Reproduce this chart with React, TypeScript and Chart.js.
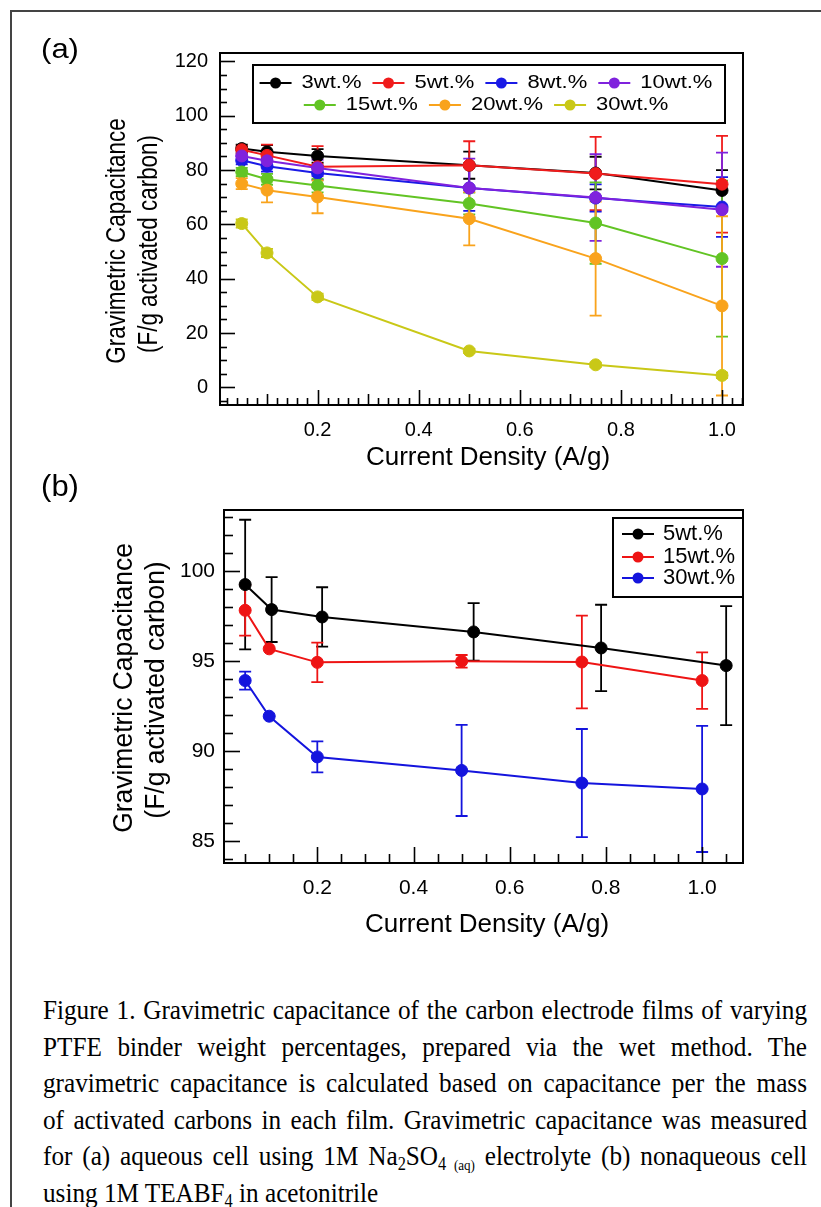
import React, { useEffect, useRef } from 'react';
import { Chart, registerables } from 'chart.js';

Chart.register(...registerables);

const FONT = '"Liberation Sans", Arial, Helvetica, sans-serif';

// ---------------- Panel (a): aqueous cell ----------------
const currentA = [0.05, 0.1, 0.2, 0.5, 0.75, 1.0];
const labelsA = ['3wt.%', '5wt.%', '8wt.%', '10wt.%', '15wt.%', '20wt.%', '30wt.%'];
const colorsA = ['#000000', '#f01c1c', '#1a1ae6', '#7f22dd', '#62c424', '#f9a31c', '#c9c817'];

const cap3 = [87.9, 86.7, 85.2, 81.8, 78.9, 72.5];
const err3 = [1.5, 2.5, 2.5, 5.0, 6.0, 7.5];
const cap5 = [87.5, 85.4, 81.2, 81.8, 78.7, 74.8];
const err5 = [1.5, 4.0, 7.6, 8.8, 13.5, 17.8];
const cap8 = [83.6, 81.4, 78.9, 73.4, 69.7, 66.4];
const err8 = [1.5, 2.0, 2.5, 8.4, 5.0, 11.0];
const cap10 = [85.2, 83.4, 80.8, 73.4, 69.9, 65.4];
const err10 = [2.0, 2.5, 3.0, 10.8, 16.0, 21.0];
const cap15 = [79.3, 76.6, 74.3, 67.7, 60.5, 47.4];
const err15 = [1.5, 2.0, 2.5, 4.0, 15.0, 28.7];
const cap20 = [75.0, 72.6, 70.1, 62.1, 47.4, 30.0];
const err20 = [2.0, 4.5, 6.0, 9.8, 21.0, 33.0];
const cap30 = [60.3, 49.5, 33.3, 13.4, 8.3, 4.4];
const err30 = [1.5, 1.5, 1.2, 0.8, 0.8, 1.0];

const valuesA = [cap3, cap5, cap8, cap10, cap15, cap20, cap30];
const errorsA = [err3, err5, err8, err10, err15, err20, err30];

const xTicksA = [0.2, 0.4, 0.6, 0.8, 1.0];
const yTicksA = [0, 20, 40, 60, 80, 100, 120];

// ---------------- Panel (b): nonaqueous cell ----------------
const labelsB = ['5wt.%', '15wt.%', '30wt.%'];
const colorsB = ['#000000', '#ee1414', '#1414dd'];
const currentB5 = [0.05, 0.105, 0.21, 0.525, 0.79, 1.05];
const capB5 = [99.26, 97.87, 97.46, 96.63, 95.74, 94.76];
const errB5 = [3.6, 1.8, 1.65, 1.6, 2.4, 3.3];
const currentB15 = [0.05, 0.1, 0.2, 0.5, 0.75, 1.0];
const capB15 = [97.83, 95.69, 94.94, 95.0, 94.96, 93.93];
const errB15 = [1.4, 0, 1.1, 0.35, 2.57, 1.57];
const currentB30 = [0.05, 0.1, 0.2, 0.5, 0.75, 1.0];
const capB30 = [93.93, 91.95, 89.69, 88.94, 88.24, 87.91];
const errB30 = [0.5, 0, 0.86, 2.53, 3.0, 3.5];

const currentsB = [currentB5, currentB15, currentB30];
const valuesB = [capB5, capB15, capB30];
const errorsB = [errB5, errB15, errB30];

const xTicksB = [0.2, 0.4, 0.6, 0.8, 1.0];
const yTicksB = [85, 90, 95, 100];

const yTitle = ['Gravimetric Capacitance', '(F/g activated carbon)'];
const xTitle = 'Current Density (A/g)';

type TickCfg = {
  xMinor: number; xMajor: number; xMid?: number;
  yMinor: number; yMajor: number;
  majorLen: number; minorLen: number; midLen: number;
};

function stepValues(min: number, max: number, step: number) {
  const out: number[] = [];
  const k0 = Math.ceil(min / step - 1e-9);
  const k1 = Math.floor(max / step + 1e-9);
  for (let k = k0; k <= k1; k++) out.push(k * step);
  return out;
}
const isMult = (v: number, m: number) => Math.abs(v / m - Math.round(v / m)) < 1e-6;

function frameTicksPlugin(cfg: TickCfg) {
  return {
    id: 'frameTicks',
    afterDraw(chart: any) {
      const { ctx, chartArea: a, scales } = chart;
      const xs = scales.x, ys = scales.y;
      ctx.save();
      ctx.strokeStyle = '#000';
      ctx.lineWidth = 1.6;
      for (const v of stepValues(ys.min, ys.max, cfg.yMinor)) {
        const len = isMult(v, cfg.yMajor) ? cfg.majorLen : cfg.minorLen;
        const p = Math.round(ys.getPixelForValue(v)) + 0.5;
        ctx.beginPath(); ctx.moveTo(a.left, p); ctx.lineTo(a.left + len, p); ctx.stroke();
      }
      for (const v of stepValues(xs.min, xs.max, cfg.xMinor)) {
        let len = cfg.minorLen;
        if (isMult(v, cfg.xMajor)) len = cfg.majorLen;
        else if (cfg.xMid && isMult(v, cfg.xMid)) len = cfg.midLen;
        const p = Math.round(xs.getPixelForValue(v)) + 0.5;
        ctx.beginPath(); ctx.moveTo(p, a.bottom); ctx.lineTo(p, a.bottom - len); ctx.stroke();
      }
      ctx.lineWidth = 2;
      ctx.strokeRect(a.left, a.top, a.right - a.left, a.bottom - a.top);
      ctx.restore();
    },
  };
}

const errorBarPlugin = {
  id: 'errorBars',
  beforeDatasetsDraw(chart: any) {
    const { ctx, chartArea: a, scales } = chart;
    const xs = scales.x, ys = scales.y;
    ctx.save();
    ctx.beginPath();
    ctx.rect(a.left, a.top, a.right - a.left, a.bottom - a.top);
    ctx.clip();
    ctx.lineWidth = 1.8;
    chart.data.datasets.forEach((ds: any) => {
      const errs: number[] = ds.errors || [];
      ctx.strokeStyle = ds.borderColor;
      ds.data.forEach((pt: any, j: number) => {
        const e = errs[j];
        if (!e) return;
        const x = xs.getPixelForValue(pt.x);
        const y1 = ys.getPixelForValue(pt.y + e);
        const y2 = ys.getPixelForValue(pt.y - e);
        ctx.beginPath();
        ctx.moveTo(x, y1); ctx.lineTo(x, y2);
        ctx.moveTo(x - 6, y1); ctx.lineTo(x + 6, y1);
        ctx.moveTo(x - 6, y2); ctx.lineTo(x + 6, y2);
        ctx.stroke();
      });
    });
    ctx.restore();
  },
};

function drawText(ctx: any, text: string, x: number, y: number, size: number, opts: any = {}) {
  ctx.save();
  ctx.translate(x, y);
  if (opts.rotate) ctx.rotate(-Math.PI / 2);
  ctx.scale(opts.sx || 1, opts.sy || 1);
  ctx.font = `${size}px ${FONT}`;
  ctx.fillStyle = '#000';
  ctx.textAlign = opts.align || 'center';
  ctx.textBaseline = 'middle';
  ctx.fillText(text, 0, 0);
  ctx.restore();
}

function legendSample(ctx: any, x: number, y: number, color: string) {
  ctx.save();
  ctx.strokeStyle = color;
  ctx.fillStyle = color;
  ctx.lineWidth = 2;
  ctx.beginPath(); ctx.moveTo(x, y); ctx.lineTo(x + 32, y); ctx.stroke();
  ctx.beginPath(); ctx.arc(x + 16, y, 5.5, 0, Math.PI * 2); ctx.fill();
  ctx.restore();
}

const decorA = {
  id: 'decorA',
  afterDraw(chart: any) {
    const ctx = chart.ctx;
    drawText(ctx, '(a)', 60, 50, 31, { sy: 0.9 });
    drawText(ctx, yTitle[0], 118, 241, 27, { rotate: true, sx: 0.83 });
    drawText(ctx, yTitle[1], 150, 244, 27, { rotate: true, sx: 0.83 });
    drawText(ctx, xTitle, 488, 458, 26);
    const box = { l: 253, t: 65, r: 725, b: 123 };
    ctx.save();
    ctx.fillStyle = '#fff';
    ctx.fillRect(box.l, box.t, box.r - box.l, box.b - box.t);
    ctx.strokeStyle = '#000';
    ctx.lineWidth = 2;
    ctx.strokeRect(box.l, box.t, box.r - box.l, box.b - box.t);
    ctx.restore();
    const rows = [[0, 1, 2, 3], [4, 5, 6]];
    const rowY = [83, 105];
    const size = 22;
    ctx.save();
    ctx.font = `${size}px ${FONT}`;
    const gap = 11;
    rows.forEach((row, r) => {
      const widths = row.map((i) => 42 + ctx.measureText(labelsA[i]).width);
      const total = widths.reduce((s, w) => s + w, 0) + gap * (row.length - 1);
      let x = (box.l + box.r) / 2 - 3 - total / 2;
      row.forEach((i, k) => {
        legendSample(ctx, x, rowY[r], colorsA[i]);
        drawText(ctx, labelsA[i], x + 42, rowY[r], size, { align: 'left', sy: 0.86 });
        x += widths[k] + gap;
      });
    });
    ctx.restore();
  },
};

const decorB = {
  id: 'decorB',
  afterDraw(chart: any) {
    const ctx = chart.ctx;
    drawText(ctx, '(b)', 60, 18, 31, { sy: 0.95 });
    drawText(ctx, yTitle[0], 125, 218, 27, { rotate: true, sx: 0.98 });
    drawText(ctx, yTitle[1], 157, 220, 27, { rotate: true, sx: 0.98 });
    drawText(ctx, xTitle, 487, 455, 26);
    const box = { l: 613, t: 48, r: 743, b: 127 };
    ctx.save();
    ctx.fillStyle = '#fff';
    ctx.fillRect(box.l, box.t, box.r - box.l, box.b - box.t);
    ctx.strokeStyle = '#000';
    ctx.lineWidth = 2;
    ctx.strokeRect(box.l, box.t, box.r - box.l, box.b - box.t);
    ctx.restore();
    const rowY = [64, 87, 108];
    labelsB.forEach((lab, i) => {
      legendSample(ctx, 622, rowY[i], colorsB[i]);
      drawText(ctx, lab, 663, rowY[i], 22, { align: 'left' });
    });
  },
};

function makeScales(o: any) {
  const tickFont = { family: FONT, size: o.tickSize };
  return {
    x: {
      type: 'linear',
      min: o.xMin,
      max: o.xMax,
      afterFit: (s: any) => { s.height = o.xAxisH; },
      afterBuildTicks: (s: any) => { s.ticks = o.xTicks.map((v: number) => ({ value: v })); },
      ticks: { font: tickFont, color: '#000', padding: o.xPad, autoSkip: false, maxRotation: 0, includeBounds: false, callback: (v: any) => Number(v).toFixed(1) },
      grid: { display: false, drawTicks: false },
      border: { display: false },
    },
    y: {
      type: 'linear',
      min: o.yMin,
      max: o.yMax,
      afterFit: (s: any) => { s.width = o.yAxisW; },
      afterBuildTicks: (s: any) => { s.ticks = o.yTicks.map((v: number) => ({ value: v })); },
      ticks: { font: tickFont, color: '#000', padding: o.yPad, autoSkip: false, includeBounds: false, callback: (v: any) => String(v) },
      grid: { display: false, drawTicks: false },
      border: { display: false },
    },
  };
}

export default function App() {
  const refA = useRef<HTMLCanvasElement>(null);
  const refB = useRef<HTMLCanvasElement>(null);

  useEffect(() => {
    const nA = labelsA.length;
    const chartA = new Chart(refA.current as HTMLCanvasElement, {
      type: 'line',
      data: {
        datasets: labelsA.map((lab, i) => ({
          label: lab,
          data: currentA.map((x, j) => ({ x, y: valuesA[i][j] })),
          errors: errorsA[i],
          borderColor: colorsA[i],
          backgroundColor: colorsA[i],
          pointBackgroundColor: colorsA[i],
          pointBorderColor: colorsA[i],
          pointRadius: 6,
          pointBorderWidth: 1,
          borderWidth: 2,
          tension: 0,
          order: nA - i,
        })) as any,
      },
      options: {
        responsive: false,
        animation: false,
        layout: { padding: { left: 0, top: 53, right: 821 - 743, bottom: 0 } },
        plugins: { legend: { display: false }, tooltip: { enabled: false } },
        scales: makeScales({
          xMin: 0.007, xMax: 1.0415, yMin: -6.5, yMax: 123.1,
          xTicks: xTicksA, yTicks: yTicksA, tickSize: 20,
          xAxisH: 480 - 405, yAxisW: 220, xPad: 13, yPad: 12,
        }) as any,
      },
      plugins: [
        errorBarPlugin,
        frameTicksPlugin({ xMinor: 0.02, xMajor: 0.2, xMid: 0.1, yMinor: 5, yMajor: 20, majorLen: 15, minorLen: 7, midLen: 11 }),
        decorA,
      ],
    });

    const nB = labelsB.length;
    const chartB = new Chart(refB.current as HTMLCanvasElement, {
      type: 'line',
      data: {
        datasets: labelsB.map((lab, i) => ({
          label: lab,
          data: currentsB[i].map((x, j) => ({ x, y: valuesB[i][j] })),
          errors: errorsB[i],
          borderColor: colorsB[i],
          backgroundColor: colorsB[i],
          pointBackgroundColor: colorsB[i],
          pointBorderColor: colorsB[i],
          pointRadius: 6,
          pointBorderWidth: 1,
          borderWidth: 2,
          tension: 0,
          order: nB - i,
        })) as any,
      },
      options: {
        responsive: false,
        animation: false,
        layout: { padding: { left: 0, top: 40, right: 821 - 743, bottom: 0 } },
        plugins: { legend: { display: false }, tooltip: { enabled: false } },
        scales: makeScales({
          xMin: 0.006, xMax: 1.085, yMin: 83.8, yMax: 103.4,
          xTicks: xTicksB, yTicks: yTicksB, tickSize: 21,
          xAxisH: 490 - 393, yAxisW: 224, xPad: 13, yPad: 9,
        }) as any,
      },
      plugins: [
        errorBarPlugin,
        frameTicksPlugin({ xMinor: 0.05, xMajor: 0.2, yMinor: 1, yMajor: 5, majorLen: 16, minorLen: 9, midLen: 9 }),
        decorB,
      ],
    });

    return () => {
      chartA.destroy();
      chartB.destroy();
    };
  }, []);

  const SX = 0.9;
  const capStyle: React.CSSProperties = {
    width: 764 / SX,
    height: 36.5,
    lineHeight: '36.5px',
    textAlign: 'justify',
    textAlignLast: 'justify' as any,
    whiteSpace: 'normal',
    overflow: 'visible',
  };
  const sub: React.CSSProperties = { fontSize: '0.65em', verticalAlign: '-0.25em', lineHeight: 0 };

  return (
    <div style={{ position: 'fixed', left: 0, top: 0, width: 821, height: 1207, background: '#fff', overflow: 'hidden' }}>
      <div style={{ position: 'absolute', left: 10, top: 10, width: 900, height: 1300, borderLeft: '2px solid #444', borderTop: '2px solid #444' }} />
      <canvas ref={refA} width={821} height={480} style={{ position: 'absolute', left: 0, top: 0 }} />
      <canvas ref={refB} width={821} height={490} style={{ position: 'absolute', left: 0, top: 470 }} />
      <div style={{ position: 'absolute', left: 43, top: 992, transform: `scaleX(${SX})`, transformOrigin: 'left top', fontFamily: '"Liberation Serif", "Times New Roman", serif', fontSize: 28, color: '#000' }}>
        <div style={capStyle}>Figure 1. Gravimetric capacitance of the carbon electrode films of varying</div>
        <div style={capStyle}>PTFE binder weight percentages, prepared via the wet method. The</div>
        <div style={capStyle}>gravimetric capacitance is calculated based on capacitance per the mass</div>
        <div style={capStyle}>of activated carbons in each film. Gravimetric capacitance was measured</div>
        <div style={capStyle}>for (a) aqueous cell using 1M Na<span style={sub}>2</span>SO<span style={sub}>4 <span style={{ fontSize: '0.8em' }}>(aq)</span></span> electrolyte (b) nonaqueous cell</div>
        <div style={{ ...capStyle, textAlignLast: 'left' as any }}>using 1M TEABF<span style={sub}>4</span> in acetonitrile</div>
      </div>
    </div>
  );
}
